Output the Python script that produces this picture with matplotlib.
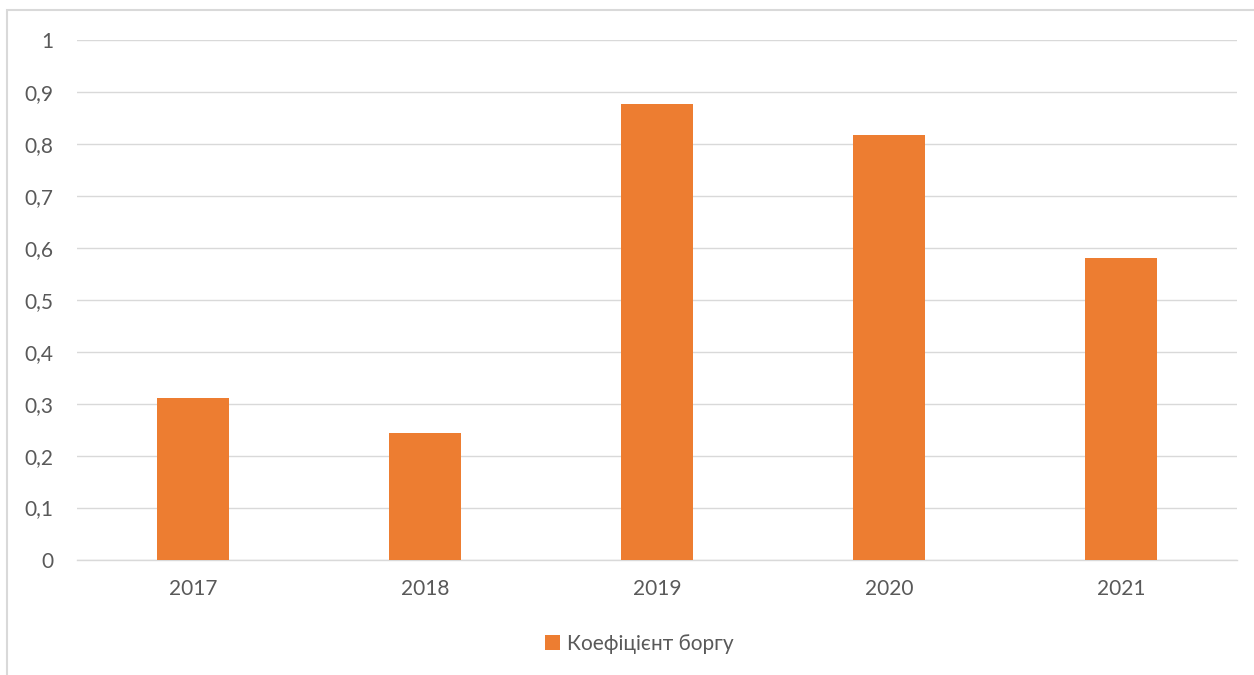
import matplotlib.pyplot as plt
import matplotlib.patches as mpatches

YEARS = ["2017", "2018", "2019", "2020", "2021"]
DEBT_RATIO = [0.311, 0.243, 0.877, 0.818, 0.580]
SERIES_NAME = "Коефіцієнт боргу"

BAR_COLOR = "#ED7D31"
GRID_COLOR = "#D9D9D9"
TEXT_COLOR = "#595959"

plt.rcParams["font.family"] = ["Lato", "DejaVu Sans"]

fig = plt.figure(figsize=(12.54, 6.75), dpi=100)
ax = fig.add_axes([0.0614, 0.1711, 0.925, 0.7696])

x = list(range(len(YEARS)))
ax.bar(x, DEBT_RATIO, width=0.31, color=BAR_COLOR, zorder=3, label=SERIES_NAME)

ax.set_xlim(-0.5, len(YEARS) - 0.5)
ax.set_ylim(0, 1)
ax.set_yticks([i / 10 for i in range(11)])
ax.set_yticklabels(["0"] + [("%.1f" % (i / 10)).replace(".", ",") for i in range(1, 10)] + ["1"])
ax.set_xticks(x)
ax.set_xticklabels(YEARS)

ax.grid(axis="y", color=GRID_COLOR, linewidth=1.0, zorder=0)
for side in ["top", "right", "left"]:
    ax.spines[side].set_visible(False)
ax.spines["bottom"].set_color(GRID_COLOR)
ax.spines["bottom"].set_linewidth(1.0)

ax.tick_params(axis="y", length=0, pad=17, labelsize=15, labelcolor=TEXT_COLOR)
ax.tick_params(axis="x", length=0, pad=14, labelsize=15, labelcolor=TEXT_COLOR)

# chart area border
fig.patches.append(mpatches.Rectangle((7 / 1254, -0.1), 1.2, 1 - 10 / 675 + 0.1,
                                      transform=fig.transFigure, fill=False,
                                      edgecolor=GRID_COLOR, linewidth=1.5))

fig.legend(loc="center", bbox_to_anchor=(0.51, 1 - 644 / 675), frameon=False,
           fontsize=15, labelcolor=TEXT_COLOR, handlelength=0.7, handleheight=0.7,
           handletextpad=0.35)

plt.savefig("out.png", dpi=100)
